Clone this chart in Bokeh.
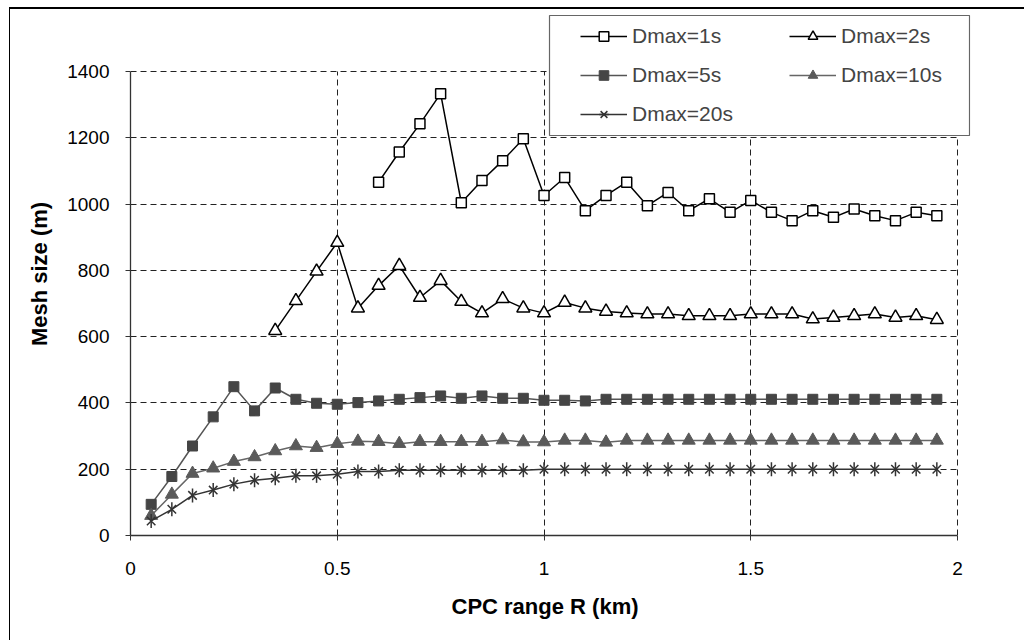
import math
from bokeh.plotting import figure
from bokeh.models import Range1d, Legend, LegendItem, FixedTicker, BoxAnnotation, Title
from bokeh.embed import file_html
from bokeh.resources import INLINE

R = [0.05, 0.10, 0.15, 0.20, 0.25, 0.30, 0.35, 0.40, 0.45, 0.50,
     0.55, 0.60, 0.65, 0.70, 0.75, 0.80, 0.85, 0.90, 0.95, 1.00,
     1.05, 1.10, 1.15, 1.20, 1.25, 1.30, 1.35, 1.40, 1.45, 1.50,
     1.55, 1.60, 1.65, 1.70, 1.75, 1.80, 1.85, 1.90, 1.95]

d1 = [1066, 1157, 1242, 1333, 1004, 1071, 1131, 1197, 1026, 1080,
      980, 1026, 1066, 995, 1035, 980, 1016, 975, 1011, 975,
      950, 980, 960, 985, 965, 950, 975, 965]
d2 = [618, 708, 797, 884, 686, 754, 814, 718, 769, 706,
      671, 714, 686, 671, 703, 686, 676, 671, 668, 668,
      663, 663, 663, 668, 668, 668, 653, 658, 663, 668,
      658, 663, 651]
d5 = [94, 178, 270, 358, 449, 376, 445, 411, 399, 396,
      401, 406, 411, 416, 421, 414, 421, 414, 414, 408,
      408, 406, 411, 411, 411, 411, 411, 411, 411, 411,
      411, 411, 411, 411, 411, 411, 411, 411, 411]
d10 = [60, 124, 187, 203, 223, 237, 255, 270, 265, 277,
       284, 283, 277, 283, 283, 283, 283, 288, 282, 282,
       287, 287, 281, 287, 287, 287, 287, 287, 287, 287,
       287, 287, 287, 287, 287, 287, 287, 287, 287]
d20 = [44, 79, 121, 137, 155, 167, 173, 180, 180, 185,
       193, 193, 197, 197, 197, 197, 197, 197, 197, 200,
       200, 200, 200, 200, 200, 200, 200, 200, 200, 200,
       200, 200, 200, 200, 200, 200, 200, 200, 200]

names = ["Dmax=1s", "Dmax=2s", "Dmax=5s", "Dmax=10s", "Dmax=20s"]
x_ticks = [0, 0.5, 1, 1.5, 2]
y_ticks = [0, 200, 400, 600, 800, 1000, 1200, 1400]
x_max, y_max = 2, 1400

FONT = "Liberation Sans"

# frame extends beyond the axes so the legend box (which overlaps the top margin) is not clipped
X_END, Y_END = 2.0314, 1578
p = figure(width=1015, height=633, output_backend="svg", toolbar_location=None,
           x_range=Range1d(0, X_END), y_range=Range1d(0, Y_END),
           min_border_left=120, min_border_right=55, min_border_top=3, min_border_bottom=107)
p.styles = {"margin-top": "7px", "margin-left": "9px",
            "border-top": "2px solid #000", "border-left": "1px solid #000",
            "background-color": "white"}
p.outline_line_color = None
p.background_fill_color = "white"
p.border_fill_color = "white"

for ax in (p.xaxis[0], p.yaxis[0]):
    ax.axis_line_color = "#333333"
    ax.axis_line_width = 1.3
    ax.major_tick_line_color = "#333333"
    ax.major_tick_out = 5
    ax.major_tick_in = 0
    ax.minor_tick_out = 0
    ax.minor_tick_in = 0
    ax.major_label_text_font = FONT
    ax.major_label_text_font_size = "19px"
    ax.major_label_text_color = "black"
    ax.axis_label_text_font = FONT
    ax.axis_label_text_font_style = "bold"
    ax.axis_label_text_font_size = "22px"
    ax.axis_label_text_color = "black"

p.xaxis.ticker = FixedTicker(ticks=x_ticks)
p.yaxis.ticker = FixedTicker(ticks=y_ticks)
p.xaxis.bounds = (0, x_max)
p.yaxis.bounds = (0, y_max)
p.yaxis.axis_label = "Mesh size (m)"
p.xaxis.major_label_standoff = 21
p.yaxis.major_label_standoff = 16
p.yaxis.axis_label_standoff = 12
p.yaxis.major_label_orientation = "horizontal"

# x-axis title centred under the 0..2 axis (not under the wider frame)
xt = Title(text="CPC range R (km)", align="left", offset=321, vertical_align="top",
           standoff=32, text_font=FONT, text_font_style="bold",
           text_font_size="22px", text_color="black")
p.add_layout(xt, "below")

p.xgrid.cross_bounds = (0, y_max)
p.ygrid.cross_bounds = (0, x_max)
for g in (p.xgrid[0], p.ygrid[0]):
    g.grid_line_color = "#222222"
    g.grid_line_dash = "6 4"
    g.grid_line_width = 1

x1 = R[len(R) - len(d1):]
x2 = R[len(R) - len(d2):]

l1 = p.line(x1, d1, line_color="black", line_width=1.5)
s1 = p.scatter(x1, d1, marker="square", size=10, fill_color="white", line_color="black", line_width=1.5)
l2 = p.line(x2, d2, line_color="black", line_width=1.5)
s2 = p.scatter(x2, d2, marker="triangle", size=13, fill_color="white", line_color="black", line_width=1.5)
l5 = p.line(R, d5, line_color="#555555", line_width=1.5)
s5 = p.scatter(R, d5, marker="square", size=10, fill_color="#454545", line_color="#454545")
l10 = p.line(R, d10, line_color="#666666", line_width=1.5)
s10 = p.scatter(R, d10, marker="triangle", size=13, fill_color="#5a5a5a", line_color="#5a5a5a")
l20 = p.line(R, d20, line_color="#333333", line_width=1.5)
# six-armed star marker: an "x" plus a vertical bar
s20 = p.scatter(R, d20, marker="x", size=12, line_color="#333333", line_width=1.5)
s20v = p.scatter(R, d20, marker="dash", size=14, angle=math.pi / 2, line_color="#333333", line_width=1.5)

rend = {
    "Dmax=1s": [l1, s1], "Dmax=2s": [l2, s2], "Dmax=5s": [l5, s5],
    "Dmax=10s": [l10, s10], "Dmax=20s": [l20, s20, s20v],
}

# legend frame box (page pixels -> data units of the frame)
FR_L, FR_B = 130.0, 535.0
SX = 413.5            # px per km
SY = 464.0 / 1400.0   # px per metre
def dx(px):
    return (px - FR_L) / SX
def dy(py):
    return (FR_B - py) / SY

box = BoxAnnotation(left=dx(549), right=dx(969), top=dy(15), bottom=dy(135),
                    fill_color="white", fill_alpha=1.0,
                    line_color="#666666", line_width=1.2, line_alpha=1.0)
p.add_layout(box)

# Legend fills column-major: order items so rows read 1s,2s / 5s,10s / 20s
order = ["Dmax=1s", "Dmax=5s", "Dmax=20s", "Dmax=2s", "Dmax=10s"]
legend = Legend(items=[LegendItem(label=n, renderers=rend[n]) for n in order],
                location=(441, 400), ncols=2,
                label_text_font=FONT, label_text_font_size="21px",
                glyph_width=47, glyph_height=24, label_height=24,
                label_standoff=5, spacing=15, padding=9,
                label_width=142,
                border_line_alpha=0, background_fill_alpha=0)
p.add_layout(legend, "center")

open("out.html", "w").write(file_html(p, INLINE))
